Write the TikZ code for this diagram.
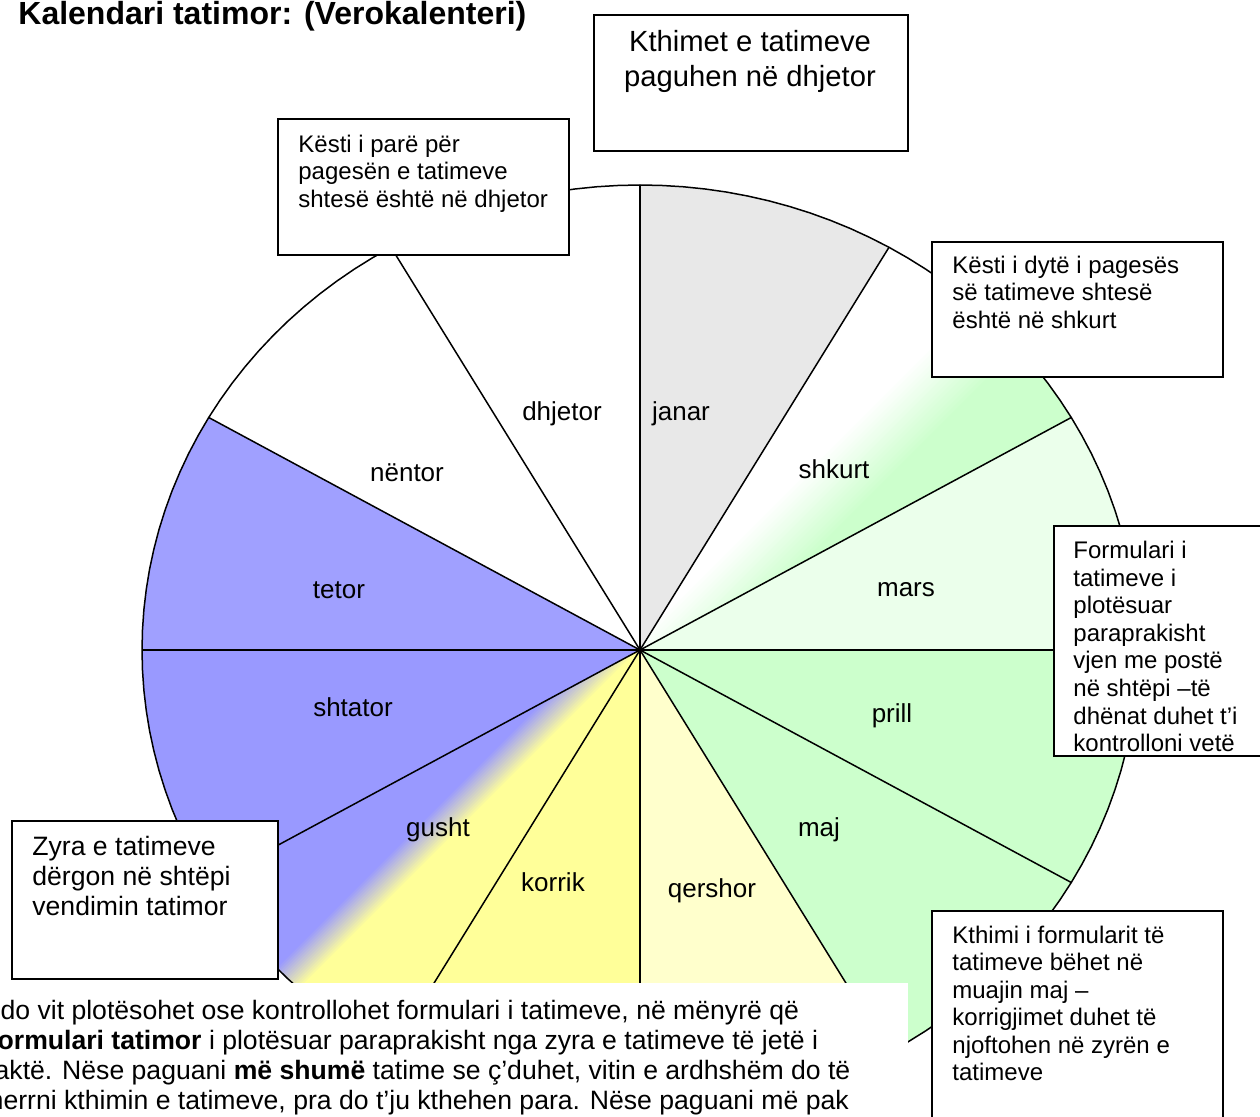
\documentclass[tikz,border=0pt]{standalone}
\usepackage{fontspec}
\setmainfont{Liberation Sans}
\definecolor{janarc}{HTML}{E8E8E8}
\definecolor{greenc}{HTML}{CCFFCC}
\definecolor{marsc}{HTML}{EBFFEB}
\definecolor{qershc}{HTML}{FFFFCC}
\definecolor{yellc}{HTML}{FFFF99}
\definecolor{bluec}{HTML}{9999FF}
\definecolor{tetorc}{HTML}{A0A0FF}
\tikzset{
  boxst/.style={draw=black, line width=1pt, fill=white, inner sep=0pt, anchor=north west},
  boxtext/.style={anchor=north west, inner sep=0pt, align=left, font=\fontsize{12pt}{13.7pt}\selectfont},
  monthlbl/.style={anchor=base, inner sep=0pt, font=\fontsize{13pt}{15pt}\selectfont},
  spoke/.style={draw=black, line width=0.75pt},
}
\begin{document}
\begin{tikzpicture}[x=0.5pt,y=-0.5pt]
\useasboundingbox (0,0) rectangle (1260,1117);
\clip (0,0) rectangle (1260,1117);
\fill[white] (0,0) rectangle (1260,1117);

% plain slices
\foreach \sa/\sb/\sc in {60/90/janarc, 0/30/marsc, -30/0/greenc, -60/-30/greenc,
   -90/-60/qershc, -120/-90/yellc, -180/-150/bluec, 150/180/tetorc}{
  \fill[\sc] (640,650) -- plot[variable=\a, domain=\sa:\sb, samples=16] ({640+498*cos(\a)},{650-465*sin(\a)}) -- cycle;
}
% shkurt: white to green
\begin{scope}
  \clip (640,650) -- plot[variable=\a, domain=30:60, samples=16] ({640+498*cos(\a)},{650-465*sin(\a)}) -- cycle;
  \fill[white] (0,0) rectangle (1260,1117);
  \foreach \i in {1,...,18}{
    \pgfmathsetmacro\thr{1280+(\i-1)*5}
    \pgfmathtruncatemacro\pp{100*\i/18}
    \fill[greenc!\pp!white] (\thr+2000,-2000) -- (\thr+4000,-2000) -- (\thr+4000,4000) -- (\thr-4000,4000) -- cycle;
  }
\end{scope}
% gusht: blue to yellow
\begin{scope}
  \clip (640,650) -- plot[variable=\a, domain=-150:-120, samples=16] ({640+498*cos(\a)},{650-465*sin(\a)}) -- cycle;
  \fill[bluec] (0,0) rectangle (1260,1117);
  \foreach \i in {1,...,15}{
    \pgfmathsetmacro\thr{1245+(\i-1)*3}
    \pgfmathtruncatemacro\pp{100*\i/15}
    \fill[yellc!\pp!bluec] (\thr+2000,-2000) -- (\thr+4000,-2000) -- (\thr+4000,4000) -- (\thr-4000,4000) -- cycle;
  }
\end{scope}

% spokes
\coordinate (c) at (640,650);
\foreach \k in {0,...,11}{
  \coordinate (r\k) at ({640+498*cos(30*\k)},{650-465*sin(30*\k)});
  \draw[spoke] (c) -- (r\k);
}
% outline
\draw[line width=0.75pt] plot[variable=\a, domain=0:360, samples=145] ({640+498*cos(\a)},{650-465*sin(\a)}) -- cycle;

% month labels
\node[monthlbl] (janar) at (681,421) {janar};
\node[monthlbl] (dhjetor) at (562,421) {dhjetor};
\node[monthlbl] (shkurt) at (834,479) {shkurt};
\node[monthlbl] (nentor) at (407,482) {nëntor};
\node[monthlbl] (mars) at (906,597) {mars};
\node[monthlbl] (tetor) at (339,599) {tetor};
\node[monthlbl] (prill) at (892,723) {prill};
\node[monthlbl] (shtator) at (353,717) {shtator};
\node[monthlbl] (maj) at (819,836) {maj};
\node[monthlbl] (gusht) at (438,836) {gusht};
\node[monthlbl] (korrik) at (553,892) {korrik};
\node[monthlbl] (qershor) at (712,898) {qershor};

% bottom text area
\node[fill=white, inner sep=0pt, minimum width=459pt, minimum height=80pt, anchor=north west] (bottombg) at (-10,983) {};
\node[anchor=north west, inner sep=0pt, align=left, font=\fontsize{13.3pt}{15pt}\selectfont] (bottomtext) at (-19,1000)
 {Çdo vit plotësohet ose kontrollohet formulari i tatimeve, në mënyrë që\\
  \textbf{Formulari tatimor} i plotësuar paraprakisht nga zyra e tatimeve të jetë i\\
  saktë. Nëse paguani \textbf{më shumë} tatime se ç’duhet, vitin e ardhshëm do të\\
  merrni kthimin e tatimeve, pra do t’ju kthehen para. Nëse paguani më pak};

% boxes
\node[boxst, minimum width=157pt, minimum height=68pt] (b1) at (593,14) {};
\node[anchor=north, inner sep=0pt, align=center, font=\fontsize{14.6pt}{17.5pt}\selectfont] (b1t) at (750,30)
 {Kthimet e tatimeve\\paguhen në dhjetor};

\node[boxst, minimum width=145.5pt, minimum height=68pt] (b2) at (277,118) {};
\node[boxtext] (b2t) at (298,134.7) {Kësti i parë për\\pagesën e tatimeve\\shtesë është në dhjetor};

\node[boxst, minimum width=145.5pt, minimum height=67.5pt] (b3) at (931,241) {};
\node[boxtext] (b3t) at (952,255.7) {Kësti i dytë i pagesës\\së tatimeve shtesë\\është në shkurt};

\node[boxst, minimum width=112pt, minimum height=115pt] (b4) at (1053,525) {};
\node[boxtext, font=\fontsize{12pt}{13.8pt}\selectfont] (b4t) at (1073,540.7) {Formulari i\\tatimeve i\\plotësuar\\paraprakisht\\vjen me postë\\në shtëpi –të\\dhënat duhet t’i\\kontrolloni vetë};

\node[boxst, minimum width=133pt, minimum height=79pt] (b5) at (11,820) {};
\node[boxtext, font=\fontsize{13.3pt}{15pt}\selectfont] (b5t) at (32,835.8) {Zyra e tatimeve\\dërgon në shtëpi\\vendimin tatimor};

\node[boxst, minimum width=145.5pt, minimum height=115pt] (b6) at (931,910) {};
\node[boxtext] (b6t) at (952,925.7) {Kthimi i formularit të\\tatimeve bëhet në\\muajin maj –\\korrigjimet duhet të\\njoftohen në zyrën e\\tatimeve};

% title
\node[anchor=base west, inner sep=0pt, font=\bfseries\fontsize{16pt}{19pt}\selectfont] (title) at (18,25) {Kalendari tatimor: (Verokalenteri)};
\end{tikzpicture}
\end{document}
